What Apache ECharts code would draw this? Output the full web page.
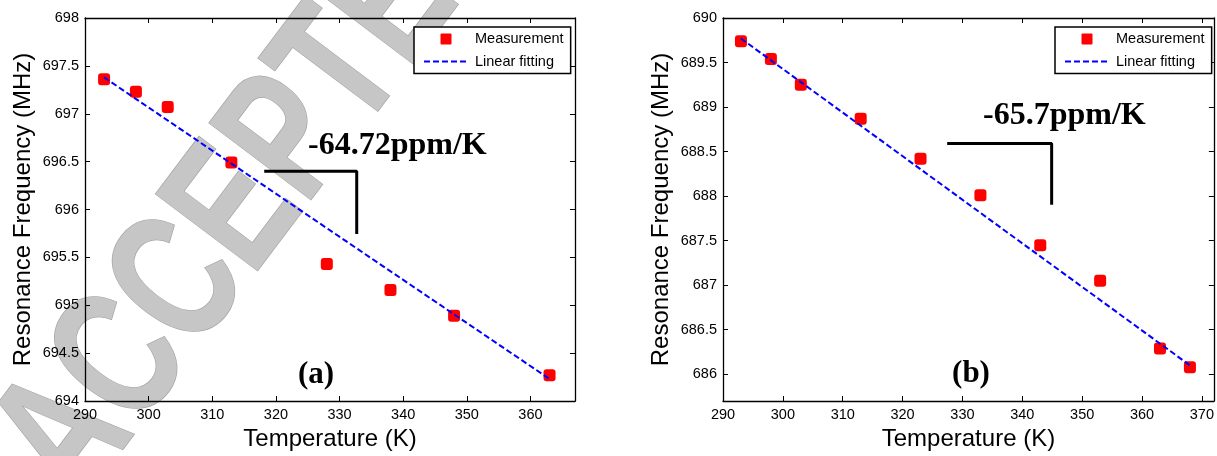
<!DOCTYPE html>
<html>
<head>
<meta charset="utf-8">
<script src="https://cdn.jsdelivr.net/npm/echarts/dist/echarts.min.js"></script>
<style>
  html, body { margin: 0; padding: 0; background: #fff; }
  #chart { width: 1217px; height: 456px; }
</style>
</head>
<body>
<div id="chart"></div>
<script>
// ---- Panel (a) data ----
const tempA = [293, 298, 303, 313, 328, 338, 348, 363];
const freqA = [697.36, 697.23, 697.07, 696.49, 695.43, 695.16, 694.89, 694.27];
const fitTempA = [293, 363];
const fitFreqA = [697.38, 694.23];
const bracketTempA = [318.4, 332.7, 332.7];
const bracketFreqA = [696.40, 696.40, 695.76];

// ---- Panel (b) data ----
const tempB = [293, 298, 303, 313, 323, 333, 343, 353, 363, 368];
const freqB = [689.74, 689.54, 689.25, 688.87, 688.42, 688.01, 687.45, 687.05, 686.29, 686.08];
const fitTempB = [293, 368];
const fitFreqB = [689.77, 686.10];
const bracketTempB = [327.7, 344.9, 344.9];
const bracketFreqB = [688.59, 688.59, 687.92];

// ---- Texts ----
const seriesNames = ['Measurement', 'Linear fitting'];
const xAxisTitle = 'Temperature (K)';
const yAxisTitle = 'Resonance Frequency (MHz)';
const slopeA = '-64.72ppm/K';
const slopeB = '-65.7ppm/K';
const panelA = '(a)';
const panelB = '(b)';
const watermark = 'ACCEPTED';

const pairs = (xs, ys) => xs.map((x, i) => [x, ys[i]]);

const SANS = 'Liberation Sans, Arial, sans-serif';
const SERIF = 'Liberation Serif, Times New Roman, serif';
const axisLine = { show: true, onZero: false, lineStyle: { color: '#000', width: 1.3 } };
const tick = { show: true, inside: true, length: 5, lineStyle: { color: '#000', width: 1 } };
const lbl = { color: '#000', fontSize: 14.5, fontFamily: SANS };

function xAxes(grid, min, max) {
  return [
    { type: 'value', gridIndex: grid, position: 'bottom', min: min, max: max, interval: 10,
      axisLine: axisLine, axisTick: tick, splitLine: { show: false },
      axisLabel: Object.assign({ margin: 6, showMaxLabel: false }, lbl),
      name: xAxisTitle, nameLocation: 'middle', nameGap: 26,
      nameTextStyle: { color: '#000', fontSize: 24, fontFamily: SANS } },
    { type: 'value', gridIndex: grid, position: 'top', min: min, max: max, interval: 10,
      axisLine: axisLine, axisTick: tick, splitLine: { show: false }, axisLabel: { show: false } }
  ];
}
function yAxes(grid, yopt) {
  return [
    Object.assign({ type: 'value', gridIndex: grid, position: 'left',
      axisLine: axisLine, axisTick: tick, splitLine: { show: false },
      axisLabel: Object.assign({ margin: 6, showMinLabel: yopt.hideMin ? false : true }, lbl),
      name: yAxisTitle, nameLocation: 'middle', nameGap: 50,
      nameTextStyle: { color: '#000', fontSize: 24, fontFamily: SANS } }, yopt.scale),
    Object.assign({ type: 'value', gridIndex: grid, position: 'right',
      axisLine: axisLine, axisTick: tick, splitLine: { show: false }, axisLabel: { show: false } }, yopt.scale)
  ];
}

function panelSeries(xi, yi, meas, fit, bracket) {
  return [
    { name: seriesNames[0], type: 'scatter', xAxisIndex: xi, yAxisIndex: yi, data: meas,
      symbol: 'roundRect', symbolSize: 12, itemStyle: { color: '#ff0000', opacity: 1 }, z: 4 },
    { name: seriesNames[1], type: 'line', xAxisIndex: xi, yAxisIndex: yi, data: fit,
      symbol: 'none', showSymbol: false,
      lineStyle: { color: '#0000ff', width: 2, type: [6, 3] }, itemStyle: { color: '#0000ff' }, z: 5 },
    { name: 'bracket', type: 'line', xAxisIndex: xi, yAxisIndex: yi, data: bracket,
      symbol: 'none', showSymbol: false, silent: true,
      lineStyle: { color: '#000', width: 3, cap: 'square' }, z: 3 }
  ];
}

function legendAt(left) {
  return {
    data: [
      { name: seriesNames[0], icon: 'path://M1,0H9Q10,0 10,1V9Q10,10 9,10H1Q0,10 0,9V1Q0,0 1,0Z',
        itemStyle: { color: '#ff0000', opacity: 1 } },
      { name: seriesNames[1], itemStyle: { color: 'rgba(0,0,0,0)', borderWidth: 0, opacity: 0 } }
    ],
    left: left, top: 27, orient: 'vertical',
    itemWidth: 44, itemHeight: 11, itemGap: 7.5, padding: [4.5, 7, 4.5, 9],
    borderColor: '#000', borderWidth: 1.5, backgroundColor: '#fff', selectedMode: false,
    textStyle: { color: '#000', fontSize: 14.5, fontFamily: SANS, padding: [0, 0, 0, 2] }
  };
}

const option = {
  animation: false,
  backgroundColor: '#fff',
  grid: [
    { left: 85, top: 18, width: 490, height: 385 },
    { left: 723, top: 18, width: 492, height: 385 }
  ],
  xAxis: [].concat(xAxes(0, 290, 367), xAxes(1, 290, 372)),
  yAxis: [].concat(
    yAxes(0, { scale: { min: 694, max: 698, interval: 0.5 } }),
    yAxes(1, { hideMin: true, scale: { min: 685.7, max: 690, splitNumber: 8, minInterval: 0.5, maxInterval: 0.5 } })
  ),
  legend: [legendAt(414), legendAt(1055)],
  series: [].concat(
    panelSeries(0, 0, pairs(tempA, freqA), pairs(fitTempA, fitFreqA), pairs(bracketTempA, bracketFreqA)),
    panelSeries(2, 2, pairs(tempB, freqB), pairs(fitTempB, fitFreqB), pairs(bracketTempB, bracketFreqB))
  ),
  graphic: [
    { type: 'text', x: 258, y: 185, rotation: 53 * Math.PI / 180, scaleX: 0.72, scaleY: 1, z: -10, silent: true,
      style: { text: watermark, fontSize: 185, fontWeight: 'bold', fontFamily: SANS, fill: '#c6c6c6', stroke: '#a4a4a4', lineWidth: 1.5,
               align: 'center', verticalAlign: 'middle',
               shadowBlur: 4, shadowColor: 'rgba(0,0,0,0.35)', shadowOffsetX: 2, shadowOffsetY: 2 } },
    { type: 'text', x: 308, y: 145.5, z: 10, silent: true,
      style: { text: slopeA, fontSize: 32, fontWeight: 'bold', fontFamily: SERIF, fill: '#000', align: 'left', verticalAlign: 'middle' } },
    { type: 'text', x: 983, y: 116, z: 10, silent: true,
      style: { text: slopeB, fontSize: 32, fontWeight: 'bold', fontFamily: SERIF, fill: '#000', align: 'left', verticalAlign: 'middle' } },
    { type: 'text', x: 316, y: 375, z: 10, silent: true,
      style: { text: panelA, fontSize: 31, fontWeight: 'bold', fontFamily: SERIF, fill: '#000', align: 'center', verticalAlign: 'middle' } },
    { type: 'text', x: 971, y: 374, z: 10, silent: true,
      style: { text: panelB, fontSize: 31, fontWeight: 'bold', fontFamily: SERIF, fill: '#000', align: 'center', verticalAlign: 'middle' } }
  ]
};

const chart = echarts.init(document.getElementById('chart'), null, { renderer: 'canvas' });
chart.setOption(option);
</script>
</body>
</html>
